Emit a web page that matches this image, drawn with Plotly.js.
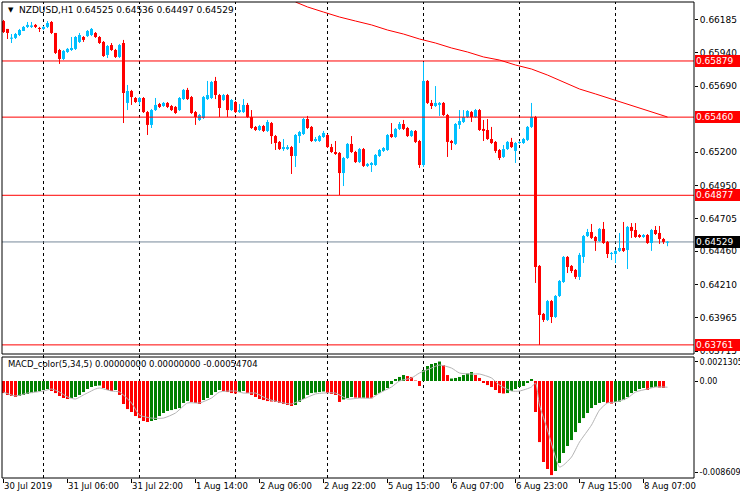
<!DOCTYPE html>
<html><head><meta charset="utf-8">
<script src="https://cdn.plot.ly/plotly-3.0.1.min.js"></script>
<style>html,body{margin:0;padding:0;background:#fff}#chart{width:740px;height:500px}</style>
</head><body><div id="chart"></div>
<script>
// ---------------- DATA ----------------
const headerText = "NZDUSD,H1 0.64525 0.64536 0.64497 0.64529";
const macdHeaderText = "MACD_color(5,34,5) 0.00000000 0.00000000 -0.00054704";

const open = [
0.66177,0.66118,0.66047,0.66051,0.66073,0.66103,0.66133,0.66133,0.66148,0.66125,
0.66118,0.66133,0.66170,0.66088,0.65961,0.65894,0.65946,0.65961,0.65969,0.66021,
0.66058,0.66065,0.66073,0.66088,0.66058,0.66021,0.65924,0.65998,0.65961,0.65909,
0.66013,0.65566,0.65655,0.65603,0.65573,0.65603,0.65498,0.65402,0.65513,0.65558,
0.65543,0.65566,0.65543,0.65536,0.65513,0.65595,0.65663,0.65610,0.65498,0.65439,
0.65454,0.65595,0.65603,0.65730,0.65625,0.65588,0.65625,0.65513,0.65573,0.65498,
0.65498,0.65551,0.65461,0.65387,0.65364,0.65394,0.65357,0.65416,0.65319,0.65275,
0.65222,0.65222,0.65237,0.65170,0.65319,0.65334,0.65446,0.65387,0.65282,0.65282,
0.65312,0.65327,0.65237,0.65200,0.65193,0.65043,0.65155,0.65260,0.65200,0.65125,
0.65222,0.65096,0.65103,0.65103,0.65170,0.65208,0.65215,0.65334,0.65312,0.65372,
0.65409,0.65379,0.65319,0.65357,0.65282,0.65103,0.65730,0.65566,0.65543,0.65551,
0.65566,0.65476,0.65282,0.65260,0.65402,0.65424,0.65461,0.65498,0.65461,0.65513,
0.65372,0.65364,0.65297,0.65275,0.65215,0.65163,0.65222,0.65275,0.65208,0.65267,
0.65267,0.65290,0.65387,0.65461,0.64350,0.63992,0.63947,0.64088,0.63969,0.64126,
0.64230,0.64417,0.64350,0.64320,0.64268,0.64417,0.64573,0.64603,0.64566,0.64536,
0.64626,0.64529,0.64439,0.64439,0.64462,0.64484,0.64469,0.64641,0.64618,0.64581,
0.64566,0.64581,0.64521,0.64618,0.64596,0.64551,0.64525];

const high = [
0.66185,0.66118,0.66080,0.66088,0.66118,0.66140,0.66170,0.66170,0.66155,0.66133,
0.66140,0.66177,0.66177,0.66088,0.65969,0.65961,0.65976,0.66058,0.66065,0.66088,
0.66065,0.66110,0.66125,0.66095,0.66065,0.66028,0.65998,0.66013,0.65969,0.66006,
0.66036,0.65700,0.65663,0.65610,0.65610,0.65610,0.65506,0.65521,0.65603,0.65566,
0.65573,0.65573,0.65551,0.65543,0.65610,0.65670,0.65678,0.65618,0.65506,0.65484,
0.65618,0.65730,0.65730,0.65760,0.65633,0.65633,0.65633,0.65595,0.65581,0.65558,
0.65595,0.65566,0.65513,0.65394,0.65402,0.65402,0.65439,0.65424,0.65327,0.65282,
0.65297,0.65252,0.65245,0.65334,0.65357,0.65454,0.65469,0.65394,0.65312,0.65327,
0.65357,0.65334,0.65260,0.65282,0.65200,0.65163,0.65267,0.65319,0.65208,0.65230,
0.65230,0.65118,0.65125,0.65185,0.65222,0.65237,0.65334,0.65416,0.65379,0.65424,
0.65439,0.65387,0.65364,0.65364,0.65290,0.65871,0.65737,0.65588,0.65692,0.65573,
0.65573,0.65484,0.65290,0.65416,0.65513,0.65513,0.65513,0.65506,0.65521,0.65521,
0.65439,0.65446,0.65387,0.65282,0.65222,0.65252,0.65282,0.65305,0.65275,0.65282,
0.65305,0.65394,0.65566,0.65469,0.64357,0.63999,0.64096,0.64096,0.64133,0.64245,
0.64424,0.64424,0.64357,0.64327,0.64447,0.64581,0.64626,0.64663,0.64573,0.64633,
0.64678,0.64536,0.64454,0.64469,0.64596,0.64678,0.64648,0.64670,0.64670,0.64588,
0.64588,0.64588,0.64626,0.64648,0.64648,0.64559,0.64536];

const low = [
0.66088,0.66043,0.66013,0.66043,0.66065,0.66103,0.66125,0.66125,0.66125,0.66095,
0.66110,0.66125,0.66080,0.65931,0.65857,0.65886,0.65939,0.65954,0.65961,0.66013,
0.66021,0.66058,0.66065,0.66051,0.66006,0.65909,0.65901,0.65954,0.65901,0.65901,
0.65416,0.65513,0.65551,0.65566,0.65551,0.65491,0.65327,0.65379,0.65506,0.65528,
0.65536,0.65528,0.65506,0.65484,0.65506,0.65588,0.65588,0.65484,0.65402,0.65431,
0.65446,0.65588,0.65595,0.65595,0.65461,0.65581,0.65461,0.65506,0.65491,0.65491,
0.65491,0.65454,0.65372,0.65357,0.65357,0.65349,0.65349,0.65260,0.65215,0.65215,
0.65208,0.65215,0.65036,0.65088,0.65267,0.65327,0.65372,0.65275,0.65275,0.65275,
0.65305,0.65230,0.65193,0.65178,0.64879,0.64946,0.65148,0.65193,0.65118,0.65118,
0.65088,0.65088,0.65051,0.65096,0.65163,0.65200,0.65208,0.65305,0.65305,0.65364,
0.65364,0.65312,0.65312,0.65267,0.65081,0.65088,0.65558,0.65521,0.65536,0.65469,
0.65469,0.65163,0.65215,0.65252,0.65372,0.65416,0.65454,0.65424,0.65454,0.65357,
0.65282,0.65290,0.65260,0.65193,0.65140,0.65155,0.65215,0.65230,0.65118,0.65260,
0.65260,0.65282,0.65379,0.64223,0.63761,0.63932,0.63939,0.63924,0.63962,0.64118,
0.64223,0.64297,0.64297,0.64253,0.64245,0.64372,0.64566,0.64551,0.64462,0.64529,
0.64514,0.64409,0.64394,0.64372,0.64454,0.64454,0.64327,0.64559,0.64559,0.64559,
0.64559,0.64514,0.64462,0.64581,0.64514,0.64514,0.64497];

const close = [
0.66095,0.66088,0.66051,0.66080,0.66110,0.66133,0.66148,0.66144,0.66133,0.66118,
0.66133,0.66162,0.66088,0.65939,0.65894,0.65954,0.65969,0.65976,0.66058,0.66073,
0.66036,0.66103,0.66118,0.66058,0.66013,0.65916,0.65991,0.65961,0.65909,0.65998,
0.65640,0.65655,0.65610,0.65573,0.65603,0.65498,0.65402,0.65513,0.65551,0.65536,
0.65566,0.65536,0.65513,0.65491,0.65603,0.65663,0.65595,0.65491,0.65461,0.65476,
0.65610,0.65625,0.65722,0.65625,0.65528,0.65625,0.65513,0.65588,0.65498,0.65513,
0.65551,0.65461,0.65379,0.65364,0.65394,0.65357,0.65424,0.65319,0.65267,0.65222,
0.65237,0.65237,0.65170,0.65327,0.65349,0.65446,0.65379,0.65282,0.65297,0.65319,
0.65342,0.65237,0.65200,0.65185,0.65043,0.65155,0.65260,0.65200,0.65125,0.65222,
0.65096,0.65111,0.65118,0.65178,0.65215,0.65230,0.65327,0.65312,0.65372,0.65409,
0.65372,0.65319,0.65357,0.65275,0.65103,0.65730,0.65566,0.65543,0.65566,0.65566,
0.65476,0.65275,0.65267,0.65409,0.65431,0.65461,0.65506,0.65461,0.65513,0.65364,
0.65357,0.65297,0.65267,0.65208,0.65155,0.65222,0.65275,0.65237,0.65267,0.65275,
0.65297,0.65387,0.65461,0.64342,0.63984,0.63947,0.64088,0.63969,0.64126,0.64238,
0.64417,0.64342,0.64312,0.64268,0.64432,0.64573,0.64603,0.64559,0.64536,0.64626,
0.64521,0.64439,0.64447,0.64462,0.64484,0.64462,0.64641,0.64611,0.64566,0.64566,
0.64581,0.64521,0.64618,0.64588,0.64551,0.64529,0.64529];

// moving average (red line), read at bar indexes
const maIdx = [73,76,80,84,88,92,96,100,104,108,112,116,120,124,128,132,136,140,144,148,152,156,160,164,166];
const maVal = [0.66319,0.66282,0.66244,0.66207,0.66177,0.66148,0.66110,0.66080,0.66043,0.66013,0.65976,0.65946,0.65909,0.65886,0.65849,0.65819,0.65774,0.65722,0.65670,0.65633,0.65595,0.65558,0.65521,0.65484,0.65461];

// MACD histogram per bar and which colour buffer holds it (G = rising, R = falling)
const macdHist = [
-0.00107,-0.00124,-0.00133,-0.00142,-0.00133,-0.00124,-0.00115,-0.00107,-0.00098,-0.00089,
-0.00080,-0.00071,-0.00089,-0.00107,-0.00133,-0.00151,-0.00160,-0.00151,-0.00142,-0.00124,
-0.00098,-0.00071,-0.00053,-0.00044,-0.00040,-0.00062,-0.00080,-0.00089,-0.00080,-0.00124,
-0.00204,-0.00249,-0.00275,-0.00311,-0.00329,-0.00355,-0.00364,-0.00355,-0.00346,-0.00311,
-0.00284,-0.00266,-0.00258,-0.00249,-0.00240,-0.00195,-0.00178,-0.00186,-0.00195,-0.00204,
-0.00169,-0.00151,-0.00124,-0.00098,-0.00080,-0.00089,-0.00098,-0.00107,-0.00111,-0.00098,
-0.00089,-0.00107,-0.00124,-0.00142,-0.00160,-0.00169,-0.00178,-0.00182,-0.00186,-0.00195,
-0.00204,-0.00213,-0.00222,-0.00213,-0.00186,-0.00160,-0.00124,-0.00107,-0.00102,-0.00098,
-0.00093,-0.00107,-0.00115,-0.00124,-0.00186,-0.00164,-0.00151,-0.00142,-0.00147,-0.00151,
-0.00149,-0.00151,-0.00153,-0.00124,-0.00107,-0.00089,-0.00062,-0.00027,0.00018,0.00036,
0.00053,0.00044,0.00036,0.00004,-0.00044,0.00098,0.00133,0.00151,0.00160,0.00173,
0.00142,0.00053,0.00022,0.00027,0.00036,0.00053,0.00067,0.00080,0.00053,0.00027,
-0.00018,-0.00036,-0.00053,-0.00080,-0.00107,-0.00111,-0.00107,-0.00089,-0.00071,-0.00053,
-0.00044,-0.00018,0.00018,-0.00275,-0.00542,-0.00719,-0.00781,-0.00835,-0.00799,-0.00728,
-0.00639,-0.00577,-0.00524,-0.00453,-0.00373,-0.00329,-0.00284,-0.00240,-0.00213,-0.00195,
-0.00186,-0.00195,-0.00200,-0.00186,-0.00182,-0.00169,-0.00142,-0.00107,-0.00089,-0.00071,
-0.00062,-0.00080,-0.00058,-0.00053,-0.00058,-0.00062,null];
const macdBuffer =
  "RRRR"+"GGGGGGGG"+"RRRRR"+"GGGGGGGG"+"RRR"+"G"+"RRRRRRRR"+"GGGGGGGGGG"+"RRR"+"GGGGG"+
  "RRRR"+"GG"+"RRRRRRRRRRRR"+"GGGGGGGG"+"RRRR"+"GGG"+"RR"+"G"+"RR"+"GGGGGGGG"+"RRRR"+
  "GGGGG"+"RR"+"GGGGGG"+"RRRRRRRR"+"GGGGGGG"+"RRRRR"+"GGGGGGGGGGGGG"+"RR"+"GGGGGGGG"+
  "R"+"GG"+"RR"+"R";

// MACD signal line (grey), read at bar indexes
const sigIdx = [0,3,6,10,12,14,16,18,20,23,24,27,29,32,34,37,40,43,46,49,52,54,58,60,63,66,70,72,75,78,80,83,86,89,92,94,97,99,102,104,107,109,112,114,117,119,122,124,127,129,132,133,134,136,138,139,140,142,144,147,149,151,153,156,158,161,163,166];
const sigVal = [-0.00098,-0.00133,-0.00107,-0.00089,-0.00071,-0.00098,-0.00142,-0.00160,-0.00124,-0.00071,
-0.00062,-0.00089,-0.00098,-0.00195,-0.00302,-0.00329,-0.00329,-0.00284,-0.00195,-0.00195,
-0.00151,-0.00098,-0.00089,-0.00107,-0.00107,-0.00160,-0.00195,-0.00204,-0.00160,-0.00115,
-0.00107,-0.00107,-0.00160,-0.00151,-0.00151,-0.00107,-0.00053,0.00000,0.00027,0.00071,
0.00115,0.00142,0.00115,0.00071,0.00062,0.00062,0.00027,-0.00036,-0.00089,-0.00089,
-0.00053,-0.00018,-0.00213,-0.00435,-0.00675,-0.00764,-0.00746,-0.00675,-0.00542,-0.00391,
-0.00258,-0.00195,-0.00186,-0.00151,-0.00098,-0.00071,-0.00053,-0.00055];

const daySeps = [10,34,58,81,105,129,153];
const timeTickIdx = [0,16,32,48,64,80,96,112,128,144,160];
const timeTickText = ["30 Jul 2019","31 Jul 06:00","31 Jul 22:00","1 Aug 14:00","2 Aug 06:00","2 Aug 22:00","5 Aug 15:00","6 Aug 07:00","6 Aug 23:00","7 Aug 15:00","8 Aug 07:00"];
const priceTicks = [0.66185,0.65940,0.65690,0.65445,0.65200,0.64950,0.64705,0.64460,0.64210,0.63965,0.63715];
const priceTickText = ["0.66185","0.65940","0.65690","0.65445","0.65200","0.64950","0.64705","0.64460","0.64210","0.63965","0.63715"];
const levelLines = [0.65879,0.65460,0.64877,0.63761];
const bidPrice = 0.64529;
const macdMax = 0.0021305, macdMin = -0.008609;

// ---------------- DRAW ----------------
const BLUE = "#00BFFF", RED = "#FF0000", GREEN = "#008000";
const FONT = "'DejaVu Sans', Tahoma, sans-serif";
const N = Math.min(open.length, high.length, low.length, close.length);
const up = {x:[],b:[],h:[],wx:[],wy:[]}, dn = {x:[],b:[],h:[],wx:[],wy:[]};
const minBody = 0.00008;
for (let i = 0; i < N; i++) {
  const o = open[i], c = close[i];
  const s = c >= o ? up : dn;
  let lo = Math.min(o, c), hi = Math.max(o, c);
  if (hi - lo < minBody) { const m = (hi + lo) / 2; lo = m - minBody / 2; hi = m + minBody / 2; }
  s.x.push(i); s.b.push(lo); s.h.push(hi - lo);
  s.wx.push(i, i, null); s.wy.push(Math.min(low[i], lo), Math.max(high[i], hi), null);
}
const g = {x:[],y:[]}, r = {x:[],y:[]};
macdHist.forEach((v, i) => { if (v === null) return; const t = macdBuffer[i] === 'G' ? g : r; t.x.push(i); t.y.push(v); });

const traces = [
  {type:'scatter', mode:'lines', x:up.wx, y:up.wy, line:{color:BLUE, width:1}, yaxis:'y', hoverinfo:'skip'},
  {type:'scatter', mode:'lines', x:dn.wx, y:dn.wy, line:{color:RED, width:1}, yaxis:'y', hoverinfo:'skip'},
  {type:'bar', x:up.x, y:up.h, base:up.b, width:0.75, marker:{color:BLUE, line:{width:0}}, yaxis:'y'},
  {type:'bar', x:dn.x, y:dn.h, base:dn.b, width:0.75, marker:{color:RED, line:{width:0}}, yaxis:'y'},
  {type:'scatter', mode:'lines', x:maIdx, y:maVal, line:{color:RED, width:1}, yaxis:'y'},
  {type:'bar', x:g.x, y:g.y, width:0.75, marker:{color:GREEN, line:{width:0}}, yaxis:'y2'},
  {type:'bar', x:r.x, y:r.y, width:0.75, marker:{color:RED, line:{width:0}}, yaxis:'y2'},
  {type:'scatter', mode:'lines', x:sigIdx, y:sigVal, line:{color:'#B4B4B4', width:1, shape:'spline', smoothing:0.6}, yaxis:'y2'}
];

const mainDom = [0.2605, 1], macdDom = [0, 0.2542];
const shapes = [];
daySeps.forEach(i => shapes.push({type:'line', xref:'x', yref:'paper', x0:i, x1:i, y0:0, y1:1, line:{color:'#000', width:1, dash:'3px,3px'}, layer:'below'}));
shapes.push({type:'line', xref:'paper', yref:'y', x0:0, x1:1, y0:bidPrice, y1:bidPrice, line:{color:'#778899', width:1}, layer:'below'});
levelLines.forEach(v => shapes.push({type:'line', xref:'paper', yref:'y', x0:0, x1:1, y0:v, y1:v, line:{color:RED, width:1}, layer:'above'}));
shapes.push({type:'rect', xref:'paper', yref:'paper', x0:0, x1:1, y0:mainDom[0], y1:mainDom[1], line:{color:'#000', width:1}, layer:'above'});
shapes.push({type:'rect', xref:'paper', yref:'paper', x0:0, x1:1, y0:macdDom[0], y1:macdDom[1], line:{color:'#000', width:1}, layer:'above'});

const annotations = [
  {xref:'paper', yref:'paper', x:0.0065, y:0.983, xanchor:'left', yanchor:'middle', text:'▼', showarrow:false, font:{family:FONT, size:7, color:'#000'}},
  {xref:'paper', yref:'paper', x:0.0215, y:0.983, xanchor:'left', yanchor:'middle', text:headerText, showarrow:false, font:{family:FONT, size:9, color:'#000'}},
  {xref:'paper', yref:'paper', x:0.006, y:0.2395, xanchor:'left', yanchor:'middle', text:macdHeaderText, showarrow:false, font:{family:FONT, size:8.5, color:'#000'}}
];
levelLines.forEach(v => annotations.push({xref:'paper', yref:'y', x:1, y:v, xanchor:'left', yanchor:'middle', xshift:1, text:v.toFixed(5), showarrow:false, bgcolor:RED, borderpad:1, borderwidth:0, width:43, height:10, align:'left', font:{family:FONT, size:9, color:'#fff'}}));
annotations.push({xref:'paper', yref:'y', x:1, y:bidPrice, xanchor:'left', yanchor:'middle', xshift:1, text:bidPrice.toFixed(5), showarrow:false, bgcolor:'#000', borderpad:1, borderwidth:0, width:43, height:10, align:'left', font:{family:FONT, size:9, color:'#fff'}});

const layout = {
  width:740, height:500,
  margin:{l:2, r:46, t:2, b:22},
  paper_bgcolor:'#fff', plot_bgcolor:'#fff',
  showlegend:false, barmode:'overlay', hovermode:false,
  xaxis:{range:[-0.375, 172.625], anchor:'y2', showgrid:false, zeroline:false, showline:false,
    tickmode:'array', tickvals:timeTickIdx, ticktext:timeTickText, ticks:'outside', ticklen:4, tickcolor:'#000',
    ticklabelposition:'outside right', tickfont:{family:FONT, size:8.5, color:'#000'}},
  yaxis:{domain:mainDom, range:[0.63693, 0.66319], side:'right', anchor:'x', showgrid:false, zeroline:false, showline:false,
    tickmode:'array', tickvals:priceTicks, ticktext:priceTickText, ticks:'outside', ticklen:3, tickcolor:'#000',
    tickfont:{family:FONT, size:9, color:'#000'}},
  yaxis2:{domain:macdDom, range:[macdMin, macdMax], side:'right', anchor:'x', showgrid:false, zeroline:false, showline:false,
    tickmode:'array', tickvals:[macdMax - 0.00044, 0, macdMin + 0.00049], ticktext:[macdMax.toFixed(7), '0.00', macdMin.toFixed(6)],
    ticks:'outside', ticklen:3, tickcolor:'#000', tickfont:{family:FONT, size:8, color:'#000'}},
  shapes:shapes, annotations:annotations
};
Plotly.newPlot('chart', traces, layout, {staticPlot:true, displayModeBar:false});
</script>
</body></html>
